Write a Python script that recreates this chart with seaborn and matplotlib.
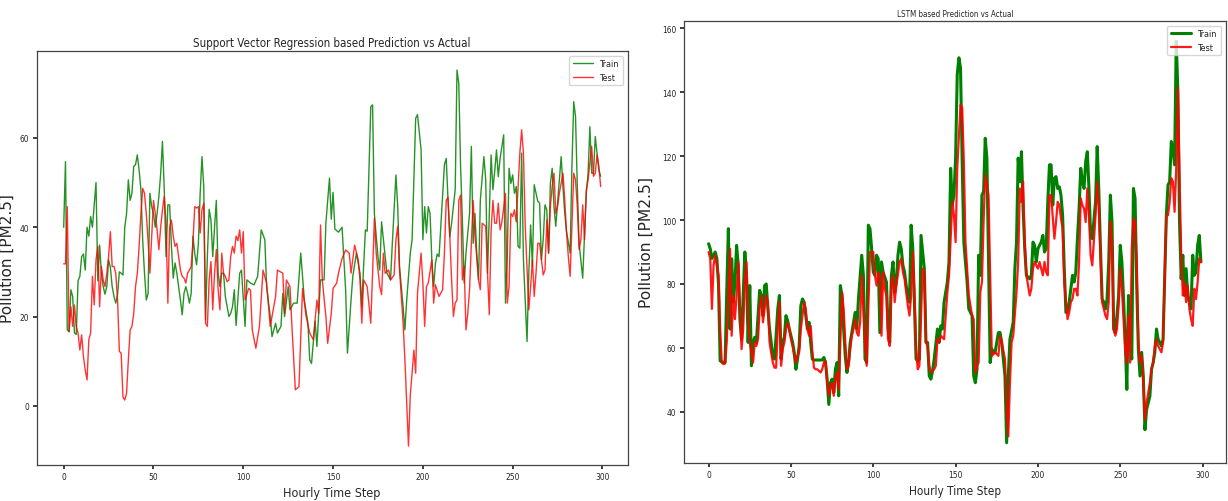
import matplotlib
matplotlib.use("Agg")
import matplotlib.pyplot as plt
import seaborn as sns

# ---- values ----
# SVR panel, consecutive steps 0..98 then (step, value) pairs
svr_train_head = [40, 54.7, 17, 16.6, 26, 24.5, 16.3, 16, 28, 29,
                  33.4, 34, 30.4, 40, 38, 42.4, 40, 45, 50, 28,
                  36, 29.7, 26.7, 25, 26.7, 32.7, 31, 26.7, 24.5, 23,
                  25, 30, 29.7, 29.3, 40, 43, 50.6, 46, 47.6, 53.6,
                  54, 56.2, 52.8, 48.4, 37, 29.7, 23.7, 25.2, 47.6, 44.6,
                  43, 40, 43, 46.9, 52, 59.2, 48.4, 33.4, 45, 45,
                  35.7, 28.6, 32, 29.7, 26.7, 23.7, 20.4, 25.2, 26.7, 25.2,
                  23, 25.2, 38, 34, 31.6, 36.4, 47.6, 55.8, 49, 19.3,
                  33.4, 44, 41.6, 33.4, 40, 46, 29.7, 26.7, 29.7, 29.7,
                  24.5, 22.2, 20, 20.7, 22.2, 26, 18, 23.7, 29.7]
svr_train_tail = [(99, 30.4), (101, 17.8), (102, 28.2), (104, 27.5), (106, 27.1), (108, 29), (110, 39.4),
                  (112, 37.2), (113, 26.7), (115, 20), (116, 15.5), (118, 18.5), (119, 16.3), (121, 17.8),
                  (122, 25.2), (123, 20), (125, 26.7), (126, 21.5), (128, 23), (130, 23), (132, 34.2),
                  (134, 23.7), (136, 18.5), (137, 10.3), (138, 9.5), (140, 19), (141, 13.3), (143, 28.2),
                  (145, 28.2), (146, 40.9), (148, 51), (149, 41.8), (150, 47.8), (151, 39.6), (153, 38.9),
                  (155, 40), (157, 25.9), (158, 11.8), (160, 23.7), (161, 29), (163, 34.2), (165, 29.7),
                  (166, 22.2), (167, 31.2), (168, 39.4), (169, 39.1), (171, 67), (172, 67.4), (173, 43),
                  (175, 33.4), (176, 30.4), (177, 41.2), (179, 33.4), (180, 29.7), (182, 28.2), (183, 36.4),
                  (185, 51.7), (186, 44.6), (187, 31.2), (189, 22.2), (190, 17), (191, 23.7), (193, 34.2),
                  (194, 37.2), (195, 50.6), (196, 64.4), (197, 65.2), (199, 57.4), (200, 37.2), (201, 44.6),
                  (202, 38.7), (203, 44.6), (204, 43.1), (205, 32.7), (206, 26.7), (207, 31.9), (208, 34),
                  (209, 33.4), (210, 40.2), (212, 54), (213, 55.4), (214, 46.1), (215, 37.9), (216, 40.9),
                  (218, 48.4), (219, 75.2), (220, 72.2), (221, 53.6), (222, 41.6), (223, 27.5), (224, 34.2),
                  (226, 43.1), (227, 58.1), (228, 36.4), (229, 43.1), (230, 34.2), (231, 28.2), (232, 46.1),
                  (234, 55.8), (235, 50.6), (236, 29.7), (238, 56.2), (239, 48.4), (240, 52.5), (241, 57.3),
                  (242, 51.3), (243, 55.4), (245, 60.7), (246, 23), (247, 33.4), (248, 53.2), (249, 49.8),
                  (250, 51.7), (251, 47.6), (252, 49.1), (253, 35.7), (254, 35.3), (255, 56.6), (256, 32.7),
                  (258, 14.4), (259, 29.7), (260, 40.5), (261, 31.2), (262, 49.5), (264, 45.8), (265, 45.4),
                  (266, 32.7), (267, 37.2), (268, 45), (269, 43.9), (270, 34.2), (271, 49.8), (272, 53.2),
                  (273, 44.6), (274, 40.2), (276, 50.6), (277, 55.8), (278, 49.1), (279, 43.1), (280, 39),
                  (282, 34.2), (283, 53.6), (284, 68.1), (285, 64.8), (286, 49.1), (287, 36.4), (289, 28.6),
                  (290, 37.9), (291, 47.6), (292, 52.1), (293, 62.5), (294, 52.1), (295, 52.1), (296, 60.3),
                  (297, 56.6), (298, 52.8), (299, 51.4)]

svr_test_head = [31.8, 31.8, 44.6, 16.6, 22.2, 17.8, 22.6, 17.8, 16.3, 12.5,
                 15.9, 11, 8, 5.8, 14.8, 16.3, 29, 22.6, 32.7, 35.7,
                 22.2, 31.2, 28.2, 26.7, 29.7, 33.4, 39, 31.2, 31.2, 29.7,
                 23.7, 12.2, 11.8, 2, 1.3, 2.8, 10.3, 17, 17.8, 20.7,
                 26.7, 29.7, 35.7, 43, 48.7, 47.6, 43, 37, 29.7, 38,
                 46, 43, 39.4, 35, 40, 43.9, 46.9, 40.9, 23, 40,
                 41.6, 38, 35.7, 36.4, 33.4, 30.4, 29, 28.6, 27.5, 29.7,
                 30.4, 31.2, 37, 44.6, 44.3, 44.6, 38.7, 43.9, 45.4, 18.5,
                 17.8, 28.2, 32.3, 21.5, 29.7, 35, 26, 21.5, 34.2, 29.7,
                 29, 27.8, 28.2, 33.4, 35.7, 34.2, 38, 37, 39.4]
svr_test_tail = [(99, 34.2), (100, 39), (101, 23.7), (103, 26.3), (104, 25.9), (105, 17), (107, 12.9),
                 (109, 17.8), (111, 30.4), (113, 27.5), (115, 17.8), (117, 22.2), (118, 24.5), (119, 30.4),
                 (122, 29.7), (123, 20.7), (124, 28.2), (126, 26.7), (127, 18.5), (129, 3.6), (131, 4.3),
                 (133, 26.3), (135, 20), (137, 16.3), (139, 14.8), (141, 23.7), (142, 20.7), (143, 40.5),
                 (144, 28.2), (146, 20), (147, 14), (149, 20.7), (150, 26.3), (152, 27.5), (153, 29.7),
                 (155, 33), (157, 34.9), (159, 34.2), (160, 29.7), (162, 36), (164, 32.7), (165, 28.2),
                 (166, 18.5), (167, 28.2), (169, 26.7), (171, 18.5), (172, 29.7), (173, 42), (174, 34.2),
                 (176, 26.7), (177, 24.9), (178, 34.2), (179, 29.7), (181, 30.4), (182, 28.2), (184, 29.3),
                 (185, 37.2), (186, 40.2), (187, 30.4), (189, 18.5), (190, 10.3), (192, -9), (193, 2.5),
                 (194, 7.3), (195, 12.5), (196, 7.3), (197, 25.2), (199, 34.2), (200, 27.5), (201, 17.8),
                 (202, 26.7), (203, 27.5), (205, 32.7), (206, 23), (207, 27.1), (209, 24.5), (211, 26),
                 (212, 34.2), (213, 46), (214, 46.7), (215, 37.9), (216, 28.2), (217, 20), (218, 23),
                 (219, 23.7), (220, 46), (221, 47.2), (222, 28.2), (223, 31.2), (224, 17), (225, 20.7),
                 (226, 26), (227, 36.4), (228, 46), (229, 38.2), (231, 28.2), (232, 26), (233, 40.9),
                 (235, 40.2), (236, 29.7), (237, 20.4), (238, 39.4), (239, 46), (240, 40.9), (241, 40.9),
                 (242, 45.4), (243, 39.4), (244, 41.2), (246, 47.6), (247, 23), (248, 26.7), (249, 43.1),
                 (250, 42.4), (251, 43.9), (252, 41.2), (253, 49.1), (254, 56.6), (255, 61.8), (256, 56.6),
                 (257, 40.2), (259, 21.5), (260, 26.7), (261, 32.7), (262, 24.5), (263, 29.7), (264, 36.4),
                 (265, 36.4), (267, 29.3), (268, 30.4), (269, 41.6), (270, 34.2), (271, 44.6), (272, 49.1),
                 (273, 52.1), (274, 43.1), (275, 44.6), (276, 47.6), (278, 52.1), (279, 46.1), (280, 38.7),
                 (281, 33.4), (282, 29), (283, 40.2), (284, 52.1), (285, 50.6), (286, 44.6), (287, 35),
                 (288, 37.2), (289, 45), (290, 37.2), (291, 48.4), (292, 50.6), (294, 58.1), (295, 51.4),
                 (296, 52.1), (297, 56.2), (298, 53.6), (299, 49.1)]

# LSTM panel, consecutive steps 0..91 then (step, value) pairs
lstm_train_head = [92.6, 91, 88, 89, 90, 88, 80, 56, 55.6, 55.5,
                   55.4, 77.4, 97.3, 65.9, 87.9, 74.3, 80.6, 92.1, 85.8, 69,
                   62.7, 76.4, 90, 82.7, 61.7, 79.5, 54.4, 61.7, 63.3, 61.7,
                   70.1, 78, 76.4, 70.1, 79.5, 80, 72.2, 65.9, 61.7, 57,
                   56.5, 63.8, 72.2, 76.4, 56.5, 61.7, 63.3, 70.1, 68.5, 65.9,
                   63.8, 61.7, 58.6, 53.3, 56.5, 60.6, 73.2, 75.3, 74.3, 70.1,
                   65.9, 68, 61.7, 56.5, 56.2, 56.2, 56.2, 56.2, 56.2, 56.2,
                   57, 55.4, 50, 42.3, 49.1, 50.2, 46, 53.3, 55.4, 45,
                   79.5, 76.4, 65.9, 57.5, 52.3, 55.4, 61.7, 64.8, 68, 71.1,
                   65.9, 75.3]
lstm_train_tail = [(93, 89), (94, 82.7), (95, 56.5), (96, 55.4), (97, 98.4), (98, 97.3), (99, 91),
                   (100, 83.7), (101, 82.7), (102, 89), (103, 87.9), (104, 64.8), (105, 86.9), (106, 83.7),
                   (108, 80.6), (109, 65.9), (110, 61.7), (111, 82.7), (112, 86.9), (113, 77.4), (114, 80.6),
                   (115, 89), (116, 93.1), (117, 91), (118, 85.8), (119, 83.7), (120, 79.5), (121, 76.4),
                   (122, 74.3), (123, 98.4), (124, 91), (125, 74.3), (126, 56.5), (127, 55.9), (128, 56.5),
                   (129, 95.2), (131, 84.8), (132, 61.7), (133, 61.7), (134, 51.2), (135, 50.2), (136, 52.8),
                   (137, 56.5), (139, 65.9), (140, 61.7), (141, 66.9), (142, 65.9), (143, 74.3), (145, 80.6),
                   (146, 86.9), (147, 116.2), (148, 104.7), (149, 107.8), (150, 119.4), (151, 145.6),
                   (152, 150.8), (153, 147.6), (154, 118.3), (155, 93.1), (156, 86.9), (157, 80.6), (158, 72.2),
                   (160, 70.1), (161, 51.2), (162, 49.1), (163, 53.3), (164, 89), (165, 82.7), (166, 107.8),
                   (167, 108.9), (168, 125.6), (169, 119.4), (171, 55.4), (172, 59.6), (173, 58.6), (174, 58.6),
                   (176, 64.8), (177, 64.8), (178, 61.7), (180, 51.2), (181, 30.3), (182, 51.2), (183, 62.7),
                   (185, 68), (186, 84.8), (187, 93.1), (188, 119.4), (189, 112), (190, 121.4), (191, 103.6),
                   (192, 91), (193, 82.7), (195, 81.6), (196, 82.7), (197, 93.1), (198, 92.1), (199, 86.9),
                   (200, 91), (201, 92.1), (202, 93.1), (203, 95.2), (204, 90), (205, 91), (206, 105.7),
                   (207, 117.3), (208, 117.3), (209, 104.7), (210, 113.1), (211, 113.6), (212, 109.9),
                   (213, 110.4), (214, 107.8), (215, 101.5), (216, 84.8), (217, 71.1), (218, 71.6), (219, 74.3),
                   (220, 78.5), (221, 82.7), (222, 80.6), (223, 83.7), (224, 94.2), (225, 103.6), (226, 116.2),
                   (227, 112), (228, 109.9), (229, 118.3), (230, 121.4), (231, 109.9), (232, 95.2), (233, 94.2),
                   (235, 105.7), (236, 123), (237, 108.9), (238, 91), (239, 75.3), (240, 74.3), (241, 72.2),
                   (242, 75.3), (243, 86.9), (244, 107.8), (245, 99.4), (246, 65.9), (247, 64.8), (248, 70.1),
                   (249, 76.4), (250, 92.1), (251, 86.9), (252, 75.3), (253, 62.7), (254, 47), (255, 76.4),
                   (256, 61.7), (257, 56.5), (258, 109.9), (259, 106.8), (260, 79.5), (261, 59.6), (262, 51.2),
                   (263, 58.6), (264, 51.2), (265, 34.4), (266, 40.7), (267, 42.8), (268, 44.9), (269, 53.3),
                   (270, 55.4), (271, 58.6), (272, 65.9), (273, 62.7), (274, 61.7), (275, 60.6), (276, 62.7),
                   (277, 82.7), (278, 101.5), (279, 111), (280, 112), (281, 124.6), (282, 122.5), (283, 117.3),
                   (284, 156), (285, 140.3), (286, 99.4), (287, 81.6), (288, 89), (289, 76.4), (290, 84.8),
                   (291, 76.4), (292, 74.3), (293, 72.2), (294, 89), (295, 82.7), (296, 83.7), (297, 92.1),
                   (298, 95.2), (299, 86.9)]

lstm_test_head = [90, 87.9, 72.2, 85.8, 89, 85.8, 82.7, 65.9, 55.4, 54.9,
                  55.1, 61.7, 77.4, 91, 63.8, 76.4, 69, 76.4, 86.9, 72.2,
                  59.6, 65.9, 80.6, 86.9, 70.1, 61.7, 58.6, 55.4, 61.7, 60.6,
                  62.7, 72.2, 76.4, 68, 72.2, 76.4, 74.3, 61.7, 58.6, 55.4,
                  53.8, 53.8, 65.9, 74.3, 54.4, 59.6, 61.7, 65.9, 68, 65.9,
                  62.7, 60.6, 57.5, 55.4, 57.5, 58.6, 65.9, 70.1, 74.3, 72.2,
                  65.9, 63.8, 66.9, 58.6, 53.8, 53.3, 53.3, 52.8, 52.3, 53.3,
                  55.4, 55.9, 49.1, 45, 48, 49.1, 45, 50.2, 52.3, 47,
                  61.7, 77.4, 72.2, 61.7, 53.3, 54.4, 59.6, 63.8, 65.9, 69,
                  64.8, 63.8]
lstm_test_tail = [(92, 68), (93, 82.7), (95, 61.7), (96, 54.4), (97, 72.2), (98, 90), (100, 90),
                  (101, 82.7), (102, 79.5), (103, 83.7), (104, 82.7), (105, 63.8), (106, 83.7), (107, 78.5),
                  (108, 76.4), (109, 62.7), (110, 60.6), (111, 80.6), (112, 82.7), (113, 74.3), (114, 79.5),
                  (116, 86.9), (117, 87.9), (118, 83.7), (119, 81.6), (120, 77.4), (121, 73.2), (122, 70.1),
                  (123, 76.4), (124, 90), (125, 77.4), (126, 59.6), (127, 53.3), (128, 54.4), (130, 84.8),
                  (131, 83.7), (132, 61.7), (133, 60.6), (134, 54.4), (135, 52.3), (137, 53.3), (138, 54.4),
                  (139, 62.7), (140, 61.7), (141, 63.8), (143, 62.7), (144, 70.1), (145, 77.4), (146, 82.7),
                  (148, 105.7), (149, 101.5), (150, 93.1), (151, 116.2), (153, 136.1), (154, 135.1),
                  (155, 118.3), (156, 93.1), (157, 84.8), (158, 76.4), (160, 70.1), (161, 69), (162, 52.3),
                  (163, 54.4), (164, 55.4), (165, 77.4), (166, 80.6), (167, 99.4), (168, 114.1), (170, 107.8),
                  (171, 82.7), (172, 57.5), (173, 58), (174, 58.6), (176, 57.5), (177, 63.8), (178, 61.7),
                  (180, 56.5), (181, 40.7), (182, 32.3), (183, 49.1), (184, 61.7), (185, 63.8), (187, 77.4),
                  (188, 86.9), (189, 109.9), (190, 105.7), (191, 112), (192, 93.1), (193, 82.7), (195, 76.4),
                  (196, 78.5), (197, 84.8), (198, 86.9), (200, 84.8), (201, 86.9), (203, 82.7), (204, 86.9),
                  (205, 83.7), (206, 82.7), (207, 107.8), (208, 107.8), (210, 94.2), (211, 99.4), (212, 105.7),
                  (213, 104.7), (214, 100.5), (215, 97.3), (216, 80.6), (218, 69), (219, 71.1), (220, 74.3),
                  (221, 75.3), (222, 78.5), (223, 78.5), (224, 76.4), (225, 86.9), (226, 106.8), (227, 104.7),
                  (228, 103.6), (229, 99.4), (230, 109.9), (231, 101.5), (232, 89), (233, 85.8), (235, 101.5),
                  (236, 112), (237, 103.6), (238, 89), (239, 74.3), (240, 72.2), (241, 70.1), (242, 69),
                  (243, 74.3), (244, 99.4), (245, 93.1), (246, 65.9), (247, 63.8), (248, 65.9), (249, 73.2),
                  (250, 84.8), (251, 78.5), (252, 69), (253, 59.6), (254, 55.4), (255, 70.1), (256, 55.4),
                  (257, 91), (258, 100.5), (259, 99.4), (260, 86.9), (261, 61.7), (262, 55.4), (263, 57.5),
                  (264, 49.1), (265, 37.6), (266, 42.8), (267, 46), (268, 49.1), (269, 53.3), (270, 55.4),
                  (271, 60.6), (272, 62.7), (273, 60.6), (274, 59.6), (275, 58.6), (276, 61.7), (277, 82.7),
                  (278, 101.5), (279, 101.5), (280, 105.7), (281, 113.1), (282, 112), (283, 102.6),
                  (284, 116.2), (285, 141.4), (286, 114.1), (287, 89), (288, 76.4), (289, 80.6), (290, 74.3),
                  (291, 79.5), (292, 72.2), (293, 69), (294, 66.9), (295, 78.5), (296, 75.3), (297, 80.6),
                  (298, 88), (299, 86.9)]


def series(head, tail):
    steps = list(range(len(head))) + [s for s, _ in tail]
    vals = list(head) + [v for _, v in tail]
    return steps, vals


sns.set_theme(style="ticks")
plt.rcParams['font.family'] = ['DejaVu Sans']
plt.rcParams['font.stretch'] = 'condensed'
plt.rcParams['xtick.labelsize'] = 6
plt.rcParams['ytick.labelsize'] = 6
plt.rcParams['xtick.major.size'] = 3
plt.rcParams['ytick.major.size'] = 3
plt.rcParams['xtick.major.pad'] = 2.5
plt.rcParams['ytick.major.pad'] = 2.5
plt.rcParams['axes.edgecolor'] = '#444444'
plt.rcParams['axes.linewidth'] = 0.9

fig = plt.figure(figsize=(12.28, 5.02), dpi=100)
ax1 = fig.add_axes([0.030, 0.072, 0.481, 0.824])
ax2 = fig.add_axes([0.557, 0.076, 0.441, 0.880])

# ---- SVR ----
x, y = series(svr_train_head, svr_train_tail)
sns.lineplot(x=x, y=y, ax=ax1, color='green', linewidth=1.0, alpha=0.85, label='Train', errorbar=None)
x, y = series(svr_test_head, svr_test_tail)
sns.lineplot(x=x, y=y, ax=ax1, color='red', linewidth=1.0, alpha=0.8, label='Test', errorbar=None)
ax1.set_title('Support Vector Regression based Prediction vs Actual', fontsize=8.3, pad=4)
ax1.set_xlabel('Hourly Time Step', fontsize=9, labelpad=3)
ax1.set_ylabel('Pollution [PM2.5]', fontsize=11, fontstretch='normal')
ax1.yaxis.set_label_coords(-0.037, 0.5)
ax1.set_xticks([0, 50, 100, 150, 200, 250, 300])
ax1.legend(loc='upper right', fontsize=6.5, frameon=True, handlelength=2.2)

# ---- LSTM ----
x, y = series(lstm_train_head, lstm_train_tail)
sns.lineplot(x=x, y=y, ax=ax2, color='green', linewidth=2.2, label='Train', errorbar=None)
x, y = series(lstm_test_head, lstm_test_tail)
sns.lineplot(x=x, y=y, ax=ax2, color='red', linewidth=1.6, alpha=0.9, label='Test', errorbar=None)
ax2.set_title('LSTM based Prediction vs Actual', fontsize=5.8, pad=4)
ax2.set_xlabel('Hourly Time Step', fontsize=8.5, labelpad=3)
ax2.set_ylabel('Pollution [PM2.5]', fontsize=11.2, fontstretch='normal')
ax2.yaxis.set_label_coords(-0.055, 0.5)
ax2.set_xticks([0, 50, 100, 150, 200, 250, 300])
ax2.legend(loc='upper right', fontsize=6.5, frameon=True, handlelength=2.2)

fig.savefig('out.png', dpi=100)
